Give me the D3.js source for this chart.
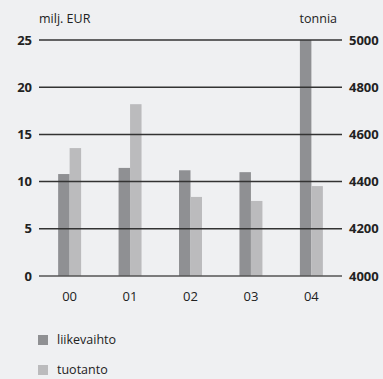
<!DOCTYPE html>
<html>
<head>
<meta charset="utf-8">
<script src="https://cdn.jsdelivr.net/npm/d3@7"></script>
<style>
  html, body { margin: 0; padding: 0; background: #eff0f2; }
  svg { display: block; font-family: "Open Sans", "DejaVu Sans", sans-serif; }
</style>
</head>
<body>
<svg id="chart" width="383" height="379"></svg>
<script>
// Years shown on the x axis
const years = ["00", "01", "02", "03", "04"];
// Net sales, million EUR (left axis)
const liikevaihto = [10.8, 11.45, 11.2, 11.0, 25.0];
// Production, tonnes (right axis)
const tuotanto = [4542, 4728, 4335, 4318, 4381];
// Axis ticks
const leftTicks = [0, 5, 10, 15, 20, 25];
const rightTicks = [4000, 4200, 4400, 4600, 4800, 5000];
const seriesNames = ["liikevaihto", "tuotanto"];
const colors = ["#8f9093", "#bbbbbd"];

const svg = d3.select("#chart");
const plotL = 39, plotR = 342, plotT = 40, plotB = 276;

const x = d3.scaleBand().domain(years).range([40, 341]).paddingInner(0.62).paddingOuter(0.3);
const yL = d3.scaleLinear().domain([0, 25]).range([plotB, plotT]);
const yR = d3.scaleLinear().domain([4000, 5000]).range([plotB, plotT]);
const bw = x.bandwidth() / 2;

// bars
const g = svg.append("g");
g.selectAll(".b1").data(years).join("rect")
  .attr("x", d => x(d)).attr("width", bw)
  .attr("y", (d, i) => yL(liikevaihto[i]))
  .attr("height", (d, i) => yL(0) - yL(liikevaihto[i]))
  .attr("fill", colors[0]);
g.selectAll(".b2").data(years).join("rect")
  .attr("x", d => x(d) + bw).attr("width", bw)
  .attr("y", (d, i) => yR(tuotanto[i]))
  .attr("height", (d, i) => yR(4000) - yR(tuotanto[i]))
  .attr("fill", colors[1]);

// gridlines, drawn over the bars
svg.append("g").selectAll("line").data(leftTicks).join("line")
  .attr("x1", plotL).attr("x2", plotR)
  .attr("y1", d => yL(d)).attr("y2", d => yL(d))
  .attr("stroke", d => d === 0 ? "#555" : "#333")
  .attr("stroke-width", 1.5);

// left axis labels
svg.append("g").selectAll("text").data(leftTicks).join("text")
  .attr("x", 32).attr("y", d => yL(d)).attr("dy", "0.35em")
  .attr("text-anchor", "end").attr("font-size", 13).attr("font-weight", 700)
  .attr("fill", "#222").text(d => d);

// right axis labels
svg.append("g").selectAll("text").data(rightTicks).join("text")
  .attr("x", 349).attr("y", d => yR(d)).attr("dy", "0.35em")
  .attr("text-anchor", "start").attr("font-size", 13).attr("font-weight", 700)
  .attr("fill", "#222").text(d => d);

// axis titles
svg.append("text").attr("x", 39).attr("y", 23).attr("font-size", 12.5)
  .attr("fill", "#222").text("milj. EUR");
svg.append("text").attr("x", 337).attr("y", 23).attr("font-size", 12.5)
  .attr("text-anchor", "end").attr("fill", "#222").text("tonnia");

// x labels
svg.append("g").selectAll("text").data(years).join("text")
  .attr("x", d => x(d) + x.bandwidth() / 2).attr("y", 296).attr("dy", "0.35em")
  .attr("text-anchor", "middle").attr("font-size", 13).attr("fill", "#222")
  .text(d => d);

// legend
const lg = svg.append("g").selectAll("g").data(seriesNames).join("g")
  .attr("transform", (d, i) => `translate(38, ${340 + i * 30})`);
lg.append("rect").attr("x", 0).attr("y", -5).attr("width", 10).attr("height", 10)
  .attr("fill", (d, i) => colors[i]);
lg.append("text").attr("x", 19).attr("y", 0).attr("dy", "0.35em")
  .attr("font-size", 12.5).attr("fill", "#222").text(d => d);
</script>
</body>
</html>
